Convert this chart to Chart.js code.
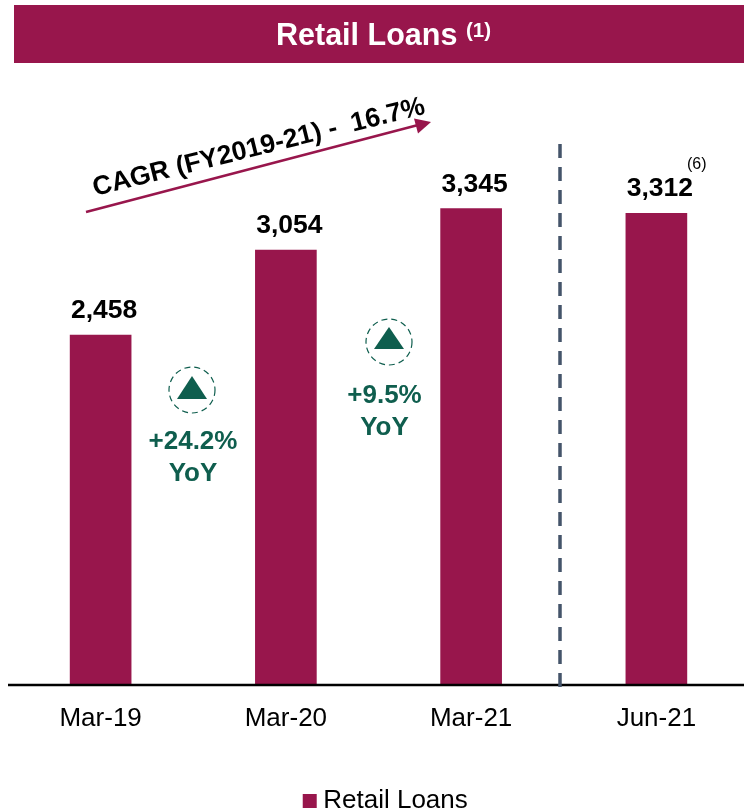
<!DOCTYPE html>
<html><head><meta charset="utf-8">
<script src="https://cdn.jsdelivr.net/npm/chart.js@4"></script>
<style>html,body{margin:0;padding:0;background:#fff;overflow:hidden}#w{position:relative;width:744px;height:812px;overflow:hidden}canvas{position:absolute;left:0;top:0}</style>
</head><body><div id="w"><canvas id="c" width="769" height="824"></canvas></div>
<script>
const categories=["Mar-19","Mar-20","Mar-21","Jun-21"];
const seriesName="Retail Loans";
const retailLoans=[2458,3054,3345,3312];
const valueLabels=["2,458","3,054","3,345","3,312"];
const titleText="Retail Loans";
const titleSup="(1)";
const cagrText="CAGR (FY2019-21) -  16.7%";
const yoyNotes=[["+24.2%","YoY"],["+9.5%","YoY"]];
const footnote="(6)";
const MAROON="#98164c",GREEN="#0f5e4e",FONT='"Liberation Sans"';
const overlay={id:"overlay",
 beforeDraw(ch){const c=ch.ctx;c.save();c.fillStyle=MAROON;c.fillRect(14,5,731,58);
  c.fillStyle="#fff";c.textBaseline="alphabetic";c.textAlign="left";
  c.font='bold 30.5px '+FONT;c.fillText(titleText,276,45);
  c.font='bold 20.5px '+FONT;c.fillText(titleSup,466,37);c.restore();},
 afterDatasetsDraw(ch){const c=ch.ctx,x=ch.scales.x,y=ch.scales.y;c.save();
  c.textAlign="center";c.textBaseline="alphabetic";c.fillStyle="#000";c.font='bold 26.5px '+FONT;
  retailLoans.forEach((v,i)=>{c.fillText(valueLabels[i],x.getPixelForValue(i)+3.5,y.getPixelForValue(v)-17);});
  c.font='16px '+FONT;c.textAlign="left";c.fillText(footnote,687,169);
  c.strokeStyle="#000";c.lineWidth=2.5;c.beginPath();c.moveTo(8,685);c.lineTo(744,685);c.stroke();
  c.strokeStyle="#44546a";c.lineWidth=3.5;c.setLineDash([14,9]);c.beginPath();c.moveTo(560,144);c.lineTo(560,688);c.stroke();c.setLineDash([]);
  c.strokeStyle=MAROON;c.fillStyle=MAROON;c.lineWidth=2.5;c.beginPath();c.moveTo(86,212);c.lineTo(420,124.5);c.stroke();
  c.beginPath();c.moveTo(431,122);c.lineTo(414,118.5);c.lineTo(418,133.5);c.closePath();c.fill();
  c.save();c.translate(95,196);c.rotate(-14*Math.PI/180);c.fillStyle="#000";c.textAlign="left";c.font='bold 26.6px '+FONT;c.fillText(cagrText,0,0);c.restore();
  [[192,390,193,449,481,-14,9],[389,342,384.5,403,435,-15,7]].forEach((b,i)=>{
   c.strokeStyle=GREEN;c.lineWidth=1.2;c.setLineDash([6,4]);c.beginPath();c.arc(b[0],b[1],23,0,Math.PI*2);c.stroke();c.setLineDash([]);
   c.fillStyle=GREEN;c.beginPath();c.moveTo(b[0],b[1]+b[5]);c.lineTo(b[0]+15,b[1]+b[6]);c.lineTo(b[0]-15,b[1]+b[6]);c.closePath();c.fill();
   c.font='bold 26px '+FONT;c.textAlign="center";c.fillText(yoyNotes[i][0],b[2],b[3]);c.fillText(yoyNotes[i][1],b[2],b[4]);
  });
  c.restore();}
};
new Chart(document.getElementById("c"),{type:"bar",plugins:[overlay],
 data:{labels:categories,datasets:[{label:seriesName,data:retailLoans,backgroundColor:MAROON,borderWidth:0,barThickness:61,pointStyle:"rect"}]},
 options:{responsive:false,animation:false,devicePixelRatio:1,
  layout:{padding:{left:8,right:0,top:65,bottom:0}},
  plugins:{tooltip:{enabled:false},title:{display:false},
   legend:{display:true,position:"bottom",labels:{color:"#000",font:{family:FONT,size:26},usePointStyle:true,pointStyle:"rect",boxWidth:1,boxHeight:14,padding:0}}},
  scales:{
   x:{grid:{display:false},border:{display:false},ticks:{color:"#000",font:{family:FONT,size:26},padding:10,maxRotation:0},afterFit(s){s.height=103;}},
   y:{position:"right",min:0,max:4354,grid:{display:false},border:{display:false},ticks:{display:false},afterFit(s){s.width=20;}}}}});
</script></body></html>
